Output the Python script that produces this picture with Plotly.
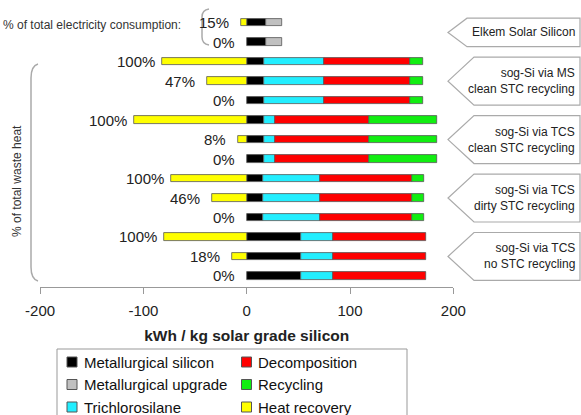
import plotly.graph_objects as go

W, H = 581, 415

# ---------------- data ----------------
group_names = [
    "Elkem Solar Silicon",
    "sog-Si via MS<br>clean STC recycling",
    "sog-Si via TCS<br>clean STC recycling",
    "sog-Si via TCS<br>dirty STC recycling",
    "sog-Si via TCS<br>no STC recycling",
]
row_group = [0, 0, 1, 1, 1, 2, 2, 2, 3, 3, 3, 4, 4, 4]
pct_labels = ["15%", "0%", "100%", "47%", "0%", "100%", "8%", "0%",
              "100%", "46%", "0%", "100%", "18%", "0%"]

met_si = [18.4, 18.4, 17, 17, 17, 17, 17, 17, 16, 16, 16, 53, 53, 53]
met_upgrade = [15.5, 15.5, None, None, None, None, None, None, None, None, None, None, None, None]
trichlorosilane = [None, None, 58, 58, 58, 10.7, 10.7, 10.7, 55.5, 55.5, 55.5, 30.7, 30.7, 30.7]
decomposition = [None, None, 83, 83, 83, 91, 91, 91, 89, 89, 89, 90.3, 90.3, 90.3]
recycling = [None, None, 13, 13, 13, 65.5, 65.5, 65.5, 11, 11, 11, None, None, None]
heat_recovery = [-5.8, None, -82, -38, None, -109, -8.7, None, -73, -33.6, None, -80, -14.2, None]

x_ticks = [-200, -100, 0, 100, 200]
x_title = "kWh / kg solar grade silicon"
elec_label = "% of total electricity consumption:"
heat_label = "% of total waste heat"

series_names = ["Metallurgical silicon", "Metallurgical upgrade", "Trichlorosilane",
                "Decomposition", "Recycling", "Heat recovery"]
series_values = [met_si, met_upgrade, trichlorosilane, decomposition, recycling, heat_recovery]
series_colors = ["#000000", "#C0C0C0", "#22EEFF", "#FF0000", "#11EE11", "#FFFF00"]

# ---------------- layout helpers (pixel -> paper) ----------------
def PX(x):
    return x / W

def PY(y):
    return 1 - y / H

FONT = "Arial, Liberation Sans, Helvetica, sans-serif"
rows = list(range(len(pct_labels)))
row0_px, row_step_px = 22.7, 19.48
axis_px = 287
y_top = -row0_px / row_step_px
y_bot = (axis_px - row0_px) / row_step_px

fig = go.Figure()
for name, vals, col in zip(series_names, series_values, series_colors):
    fig.add_trace(go.Bar(
        y=rows, x=vals, orientation="h", name=name,
        marker=dict(color=col, line=dict(color="#555555", width=0.8)),
        width=0.38, showlegend=False,
    ))
# empty trace so that the label axis (x2) is drawn
fig.add_trace(go.Scatter(x=[], y=[], xaxis="x2", yaxis="y",
                         showlegend=False, hoverinfo="skip"))

annotations = []
shapes = []

# percentage labels left of each bar
for r, lab in enumerate(pct_labels):
    start = heat_recovery[r] if heat_recovery[r] is not None else 0
    annotations.append(dict(
        x=start, y=r, xref="x", yref="y", text=lab, showarrow=False,
        xanchor="right", yanchor="middle",
        xshift=-5 if lab == "100%" else -10,
        font=dict(family=FONT, size=15, color="#222222"),
    ))

# right-hand callout boxes
for g, gname in enumerate(group_names):
    members = [r for r in rows if row_group[r] == g]
    y0 = min(members) - 0.23
    y1 = max(members) + 0.23
    ym = (y0 + y1) / 2
    tip = PX(448)
    body = PX(467) if len(members) == 2 else PX(474)
    right = PX(580)
    path = (f"M {body},{y0} L {right},{y0} L {right},{y1} "
            f"L {body},{y1} L {tip},{ym} Z")
    shapes.append(dict(type="path", path=path, xref="paper", yref="y",
                       line=dict(color="#AAAAAA", width=1.2),
                       fillcolor="white", layer="below"))
    annotations.append(dict(
        x=PX(577), y=ym, xref="paper", yref="y", text=gname,
        showarrow=False, xanchor="right", yanchor="middle", align="right",
        font=dict(family=FONT, size=12, color="#222222"),
    ))

# brackets
shapes.append(dict(
    type="path", xref="paper", yref="paper",
    path=(f"M {PX(209)},{PY(9)} Q {PX(202)},{PY(10)} {PX(202)},{PY(17)} "
          f"L {PX(202)},{PY(37)} Q {PX(202)},{PY(44)} {PX(209)},{PY(45)}"),
    line=dict(color="#AAAAAA", width=1.5)))
shapes.append(dict(
    type="path", xref="paper", yref="paper",
    path=(f"M {PX(38)},{PY(64)} Q {PX(31)},{PY(66)} {PX(31)},{PY(78)} "
          f"L {PX(31)},{PY(267)} Q {PX(31)},{PY(279)} {PX(38)},{PY(281)}"),
    line=dict(color="#AAAAAA", width=1.5)))

# legend (frame, swatches, labels) - two columns of three
shapes.append(dict(type="rect", xref="paper", yref="paper",
                   x0=PX(57), x1=PX(407), y0=PY(425), y1=PY(349),
                   line=dict(color="#999999", width=1)))
leg_col_x = [72, 246.5]
leg_row_y = [362, 384.5, 407]
for i, (name, col) in enumerate(zip(series_names, series_colors)):
    cx = leg_col_x[i // 3]
    cy = leg_row_y[i % 3]
    shapes.append(dict(type="rect", xref="paper", yref="paper",
                       x0=PX(cx - 5), x1=PX(cx + 5), y0=PY(cy + 5), y1=PY(cy - 5),
                       fillcolor=col, line=dict(color="#555555", width=1)))
    annotations.append(dict(
        x=PX(cx + 9.5), y=PY(cy), xref="paper", yref="paper", text=name,
        showarrow=False, xanchor="left", yanchor="middle",
        font=dict(family=FONT, size=15, color="#111111")))

annotations.append(dict(
    x=PX(183), y=PY(25), xref="paper", yref="paper", text=elec_label,
    showarrow=False, xanchor="right", yanchor="middle",
    font=dict(family=FONT, size=12, color="#333333")))
annotations.append(dict(
    x=PX(17), y=PY(181), xref="paper", yref="paper", text=heat_label,
    showarrow=False, textangle=-90, xanchor="center", yanchor="middle",
    font=dict(family=FONT, size=12, color="#333333")))

x_domain = [PX(40.1), PX(453.3)]
fig.update_layout(
    width=W, height=H,
    margin=dict(l=0, r=0, t=0, b=0),
    paper_bgcolor="white", plot_bgcolor="white",
    barmode="relative",
    bargap=0,
    showlegend=False,
    font=dict(family=FONT, color="#222222"),
    xaxis=dict(
        domain=x_domain, range=[-200, 200],
        tickvals=x_ticks, showticklabels=False,
        ticks="outside", ticklen=6, tickcolor="#999999", tickwidth=1,
        showline=True, linecolor="#999999", linewidth=1,
        showgrid=False, zeroline=False, automargin=False,
    ),
    xaxis2=dict(
        overlaying="x", anchor="y", side="bottom",
        domain=x_domain, range=[-200, 200],
        tickvals=x_ticks, ticktext=[str(v) for v in x_ticks],
        ticks="outside", ticklen=10, tickcolor="rgba(0,0,0,0)",
        showline=False, showgrid=False, zeroline=False, automargin=False,
        tickfont=dict(family=FONT, size=15, color="#222222"),
        title=dict(text="<b>" + x_title + "</b>", standoff=12,
                   font=dict(family=FONT, size=15.5, color="#222222")),
    ),
    yaxis=dict(
        domain=[PY(axis_px), 1], range=[y_bot, y_top],
        visible=False, automargin=False,
    ),
    shapes=shapes,
    annotations=annotations,
)

fig.write_html("out.html")
